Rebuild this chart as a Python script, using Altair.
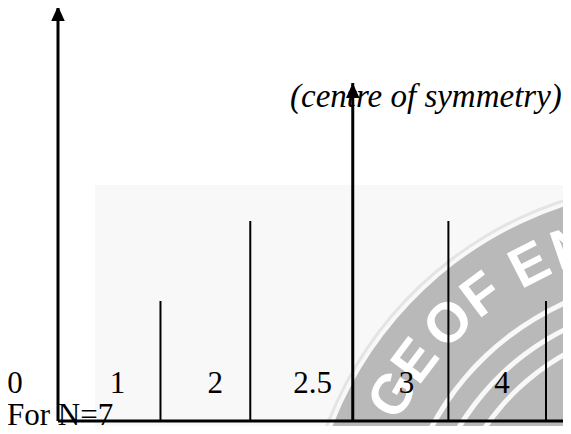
import math
import altair as alt
import pandas as pd

# ---- chart values ----
stem_pos = [1.05, 1.97, 4.0, 5.0]        # side stems (index units)
stem_h = [0.6, 1.0, 1.0, 0.6]           # their heights
centre_pos = 3.02                        # centre-of-symmetry arrow
centre_h = 1.69
axis_h = 2.075                           # vertical axis arrow tip
label_text = ["0", "1", "2", "2.5", "3", "4"]
label_pos = [-0.44, 0.61, 1.61, 2.61, 3.57, 4.55]
label_y = 0.14
note_text = "For N=7"
centre_text = "(centre of  symmetry)"

# ---- frame ----
W, H = 555, 418
PX_X = 97.6     # pixels per index unit
PX_Y = 200.0    # pixels per height unit
x0 = -50 / PX_X
y0 = -5 / PX_Y
XD = [x0, x0 + W / PX_X]
YD = [y0, y0 + H / PX_Y]
xs = alt.Scale(domain=XD, nice=False, zero=False)
ys = alt.Scale(domain=YD, nice=False, zero=False)

def X(f="x"):
    return alt.X(f"{f}:Q", scale=xs, axis=None)

def Y(f="y"):
    return alt.Y(f"{f}:Q", scale=ys, axis=None)

# ---- watermark (decoration) ----
bg = pd.DataFrame({"x": [0.38], "x2": [XD[1]], "y": [YD[0]], "y2": [1.18]})
bg_layer = alt.Chart(bg).mark_rect(color="#f8f8f8").encode(
    x=X(), x2="x2:Q", y=Y(), y2="y2:Q")

cx, cy = 6.37, -0.695
wm = pd.DataFrame({"x": [cx], "y": [cy]})
rings = [(376, 379, "#e4e4e4"), (284, 372, "#b9b9b9"), (260, 279, "#b9b9b9"),
         (238, 255, "#b9b9b9"), (150, 233, "#b9b9b9")]
ring_layers = [
    alt.Chart(wm).mark_arc(clip=True, color=c, theta=4.55, theta2=6.2832,
                           radius=r2, radius2=r1).encode(x=X(), y=Y())
    for r1, r2, c in rings
]
letters = ["L", "G", "E", "O", "F", "E", "N", "G"]
angs = [-68.0, -60.0, -53.0, -44.3, -36.8, -27.0, -19.0, -10.5]
lx, ly, la = [], [], []
for a in angs:
    r = math.radians(a)
    lx.append(cx + 330 * math.sin(r) / PX_X)
    ly.append(cy + 330 * math.cos(r) / PX_Y)
    la.append(a % 360)
let = pd.DataFrame({"x": lx, "y": ly, "t": letters, "a": la})
let_layer = alt.Chart(let).mark_text(
    clip=True, color="white", font="Liberation Sans", fontWeight="bold",
    fontSize=56, baseline="middle", align="center").encode(
    x=X(), y=Y(), text="t:N", angle=alt.Angle("a:Q", scale=None))

# ---- diagram ----
stems = pd.DataFrame({"x": stem_pos, "y": stem_h, "y0": [0.0] * len(stem_pos)})
stem_layer = alt.Chart(stems).mark_rule(color="black", strokeWidth=2).encode(
    x=X(), y=Y(), y2="y0:Q")

arrows = pd.DataFrame({"x": [0.0, centre_pos], "y": [axis_h, centre_h],
                       "y0": [0.0, 0.0]})
arrow_line = alt.Chart(arrows).mark_rule(color="black", strokeWidth=3).encode(
    x=X(), y=Y(), y2="y0:Q")
arrow_head = alt.Chart(arrows).mark_point(
    shape="M-0.9,1L0,-1L0.9,1Z", size=225, filled=True, color="black",
    opacity=1, strokeWidth=0, yOffset=7.5).encode(x=X(), y=Y())

base = pd.DataFrame({"x": [0.0], "x2": [XD[1]], "y": [0.0]})
base_layer = alt.Chart(base).mark_rule(color="black", strokeWidth=3).encode(
    x=X(), x2="x2:Q", y=Y())

labels = pd.DataFrame({"x": label_pos, "y": [label_y] * len(label_pos),
                       "t": label_text})
label_layer = alt.Chart(labels).mark_text(
    font="Liberation Serif", fontSize=31, color="black", align="center",
    baseline="alphabetic").encode(x=X(), y=Y(), text="t:N")

note = pd.DataFrame({"x": [x0 - 1 / PX_X], "y": [-0.018], "t": [note_text]})
note_layer = alt.Chart(note).mark_text(
    font="Liberation Serif", fontSize=31, color="black", align="left",
    baseline="alphabetic").encode(x=X(), y=Y(), text="t:N")

ct = pd.DataFrame({"x": [2.377], "y": [1.57], "t": [centre_text]})
ct_layer = alt.Chart(ct).mark_text(
    font="Liberation Serif", fontSize=33, fontStyle="italic", color="black",
    align="left", baseline="alphabetic").encode(x=X(), y=Y(), text="t:N")

chart = alt.layer(
    bg_layer, *ring_layers, let_layer, label_layer, note_layer, ct_layer,
    stem_layer, arrow_line, base_layer, arrow_head,
).properties(
    width=W, height=H, padding=0, background="white",
    autosize=alt.AutoSizeParams(type="none"),
).configure_view(stroke=None)

chart.save("out.html", embed_options={"renderer": "svg", "actions": False})
